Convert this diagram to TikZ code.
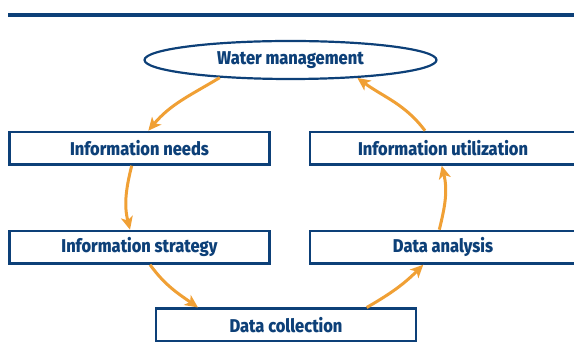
\documentclass[tikz,border=0pt]{standalone}
\usepackage{fontspec}
\setmainfont{Fira Sans}[FakeStretch=0.89,BoldFont={Fira Sans ExtraBold}]
\usetikzlibrary{arrows.meta,shapes.geometric}
\definecolor{dblue}{RGB}{13,64,120}
\definecolor{orng}{RGB}{240,160,53}
\begin{document}
\begin{tikzpicture}[x=1pt,y=1pt,
  box/.style={draw=dblue, line width=2.2pt, minimum width=260pt, minimum height=32.8pt, inner sep=0pt,
    font=\fontsize{18.5}{20}\selectfont\bfseries, text=dblue},
  flow/.style={draw=orng, line width=3pt, -{Stealth[length=13pt,width=12pt,inset=3.5pt]}}]
\useasboundingbox (0,0) rectangle (574,361);
\clip (0,0) rectangle (574,361);
\draw[dblue, line width=4pt] (8,345.7) -- (580,345.7);
\node[box, ellipse, minimum width=292pt, minimum height=38pt] (wm) at (290.5,301) {Water management};
\node[box] (in) at (139.5,212.8) {Information needs};
\node[box] (is) at (139.5,113.8) {Information strategy};
\node[box] (dc) at (286,36) {Data collection};
\node[box, minimum width=265.8pt] (iu) at (443,212.8) {Information utilization};
\node[box, minimum width=265.8pt] (da) at (443,113.8) {Data analysis};
\draw[flow] (wm.194) to[out=211,in=50] ([xshift=8.8pt]in.north);
\draw[flow] ([xshift=-7.8pt]in.south) to[out=256,in=104] ([xshift=-9.5pt]is.north);
\draw[flow] ([xshift=10.5pt]is.south) to[out=-54,in=145] ([xshift=-88pt]dc.north);
\draw[flow] ([xshift=80.7pt]dc.north) to[out=30,in=225] ([xshift=-19.7pt]da.south);
\draw[flow] ([xshift=-3.7pt]da.north) to[out=76,in=284] ([xshift=-1.3pt]iu.south);
\draw[flow] ([xshift=-18pt]iu.north) to[out=127,in=-36] (wm.345);
\end{tikzpicture}
\end{document}
